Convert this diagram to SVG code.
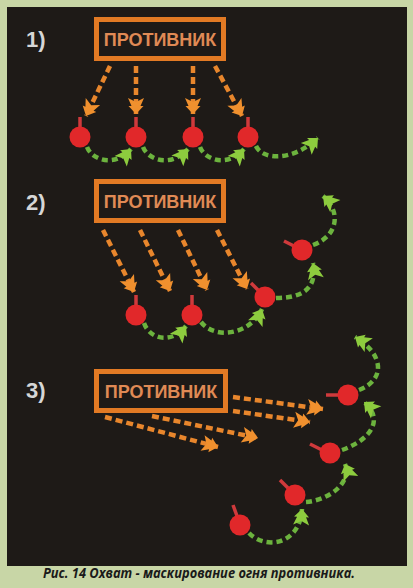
<svg xmlns="http://www.w3.org/2000/svg" width="413" height="588" viewBox="0 0 413 588">
<style>
.lbl{font-family:"Liberation Sans",Arial,sans-serif;font-weight:bold;font-size:22px;fill:#d6d6d6}
.box rect{fill:#1e1a17;stroke:#e27a24;stroke-width:5}
.box text{font-family:"Liberation Sans",Arial,sans-serif;font-weight:bold;font-size:18px;fill:#e08a55;text-anchor:middle}
.fire{fill:none;stroke:#e8862c;stroke-width:4.5;stroke-dasharray:7 4;marker-end:url(#oh)}
.move{fill:none;stroke:#6cb33e;stroke-width:4.5;stroke-dasharray:6 4;marker-end:url(#gh)}
.node circle{fill:#e1282a}
.node line{stroke:#cf3a3c;stroke-width:3.5}
.cap{font-family:"Open Sans","Liberation Sans",sans-serif;font-style:italic;font-weight:700;font-size:14px;fill:#1a1a1a;text-anchor:middle}
</style>
<defs>
<marker id="oh" viewBox="-18 -10 20 20" markerWidth="20" markerHeight="20" refX="0" refY="0" orient="auto" markerUnits="userSpaceOnUse">
<path d="M0,0 L-8,-7.5 L-8,-4.5 L-16,-8 L-12,0 L-16,8 L-8,4.5 L-8,7.5 Z" fill="#f0902e"/>
</marker>
<marker id="gh" viewBox="-18 -10 20 20" markerWidth="20" markerHeight="20" refX="0" refY="0" orient="auto" markerUnits="userSpaceOnUse">
<path d="M0,0 L-8,-7.5 L-8,-4.5 L-16,-8 L-12,0 L-16,8 L-8,4.5 L-8,7.5 Z" fill="#8dcc3e"/>
</marker>
</defs>
<rect x="0" y="0" width="413" height="588" fill="#c8d6a6"/>
<rect x="7" y="7" width="400" height="559" fill="#1e1a17"/>

<text class="lbl" x="26" y="47">1)</text>
<text class="lbl" x="26" y="210">2)</text>
<text class="lbl" x="26" y="398">3)</text>

<g id="enemy1" class="box"><rect x="96.5" y="19.5" width="127" height="39"/><text x="160" y="46">ПРОТИВНИК</text></g>
<g id="enemy2" class="box"><rect x="96.5" y="181.5" width="127" height="39"/><text x="160" y="208">ПРОТИВНИК</text></g>
<g id="enemy3" class="box"><rect x="96.5" y="371.5" width="129" height="39"/><text x="161" y="398">ПРОТИВНИК</text></g>

<g id="connectors">
<path class="fire" d="M110,66 L86,116"/>
<path class="fire" d="M136,66 L136,114"/>
<path class="fire" d="M193,66 L193,114"/>
<path class="fire" d="M215,66 L242,116"/>
<path class="move" d="M87,147 C92,160 115,168 131,149"/>
<path class="move" d="M143,147 C148,160 171,168 188,149"/>
<path class="move" d="M200,147 C205,160 228,168 244,149"/>
<path class="move" d="M256,146 C262,160 292,162 318,138"/>

<path class="fire" d="M103,230 L134,292"/>
<path class="fire" d="M140,230 L170,291"/>
<path class="fire" d="M178,230 L207,290"/>
<path class="fire" d="M217,230 L247,289"/>
<path class="move" d="M144,323 C150,340 172,344 186,326"/>
<path class="move" d="M201,322 C215,340 250,335 262,309"/>
<path class="move" d="M276,298 C300,298 318,290 313,263"/>
<path class="move" d="M313,245 C340,235 340,210 323,196"/>

<path class="fire" d="M233,397 L323,409"/>
<path class="fire" d="M233,411 L310,422"/>
<path class="fire" d="M152,416 L258,438"/>
<path class="fire" d="M105,417 L218,447"/>
<path class="move" d="M249,533 C265,550 300,545 302,509"/>
<path class="move" d="M306,502 C330,500 352,482 345,464"/>
<path class="move" d="M342,450 C370,440 385,420 364,402"/>
<path class="move" d="M359,390 C385,380 385,355 355,337"/>
</g>

<g id="n1a" class="node"><line x1="80" y1="127" x2="80" y2="117"/><circle cx="80" cy="137" r="10.5"/></g>
<g id="n1b" class="node"><line x1="136" y1="127" x2="136" y2="117"/><circle cx="136" cy="137" r="10.5"/></g>
<g id="n1c" class="node"><line x1="193" y1="127" x2="193" y2="117"/><circle cx="193" cy="137" r="10.5"/></g>
<g id="n1d" class="node"><line x1="248" y1="127" x2="248" y2="117"/><circle cx="248" cy="137" r="10.5"/></g>

<g id="n2a" class="node"><line x1="136" y1="305" x2="136" y2="295"/><circle cx="136" cy="315" r="10.5"/></g>
<g id="n2b" class="node"><line x1="192" y1="305" x2="192" y2="295"/><circle cx="192" cy="315" r="10.5"/></g>
<g id="n2c" class="node"><line x1="258" y1="290" x2="251" y2="283"/><circle cx="265" cy="297" r="10.5"/></g>
<g id="n2d" class="node"><line x1="294" y1="246" x2="284" y2="241"/><circle cx="302" cy="250" r="10.5"/></g>

<g id="n3a" class="node"><line x1="340" y1="395" x2="326" y2="395"/><circle cx="348" cy="395" r="10.5"/></g>
<g id="n3b" class="node"><line x1="322" y1="450" x2="310" y2="444"/><circle cx="330" cy="453" r="10.5"/></g>
<g id="n3c" class="node"><line x1="288" y1="488" x2="280" y2="480"/><circle cx="295" cy="495" r="10.5"/></g>
<g id="n3d" class="node"><line x1="237" y1="516" x2="233" y2="505"/><circle cx="240" cy="525" r="10.5"/></g>

<text class="cap" x="199" y="578" textLength="312" lengthAdjust="spacingAndGlyphs">Рис. 14 Охват - маскирование огня противника.</text>
</svg>
